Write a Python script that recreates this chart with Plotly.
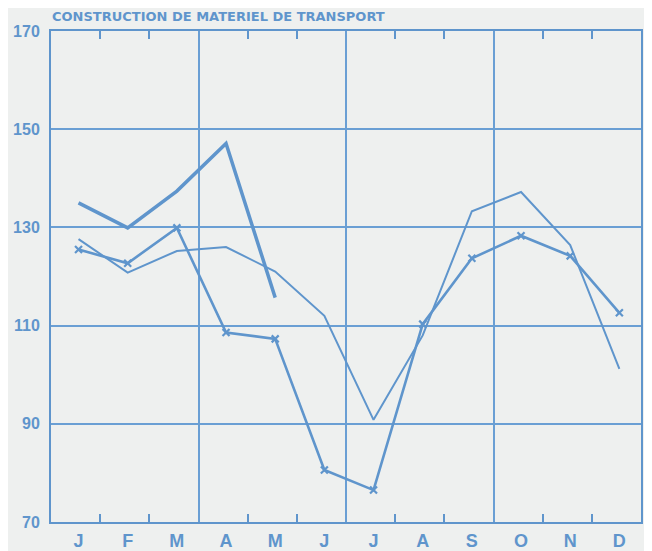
"""
Construction de matériel de transport - indices mensuels
"""

import plotly.graph_objects as go

# Couleurs
BLUE = '#5f95cc'
GRID = '#6a9fd4'
BG = '#eef0ef'

# Données
MONTHS = ['J', 'F', 'M', 'A', 'M', 'J', 'J', 'A', 'S', 'O', 'N', 'D']
Y_TICKS = [70, 90, 110, 130, 150, 170]

serie_a = [135.0, 129.9, 137.4, 147.1, 115.7]
serie_b = [127.6, 120.8, 125.2, 126.0, 121.0, 112.0, 90.8, 108.0, 133.3, 137.2, 126.4, 101.2]
serie_c = [125.5, 122.7, 129.9, 108.6, 107.3, 80.6, 76.5, 110.3, 123.7, 128.3, 124.2, 112.6]

x_pos = list(range(len(MONTHS)))
x_range = [-0.56, 11.44]
bounds = [k - 0.56 for k in range(1, 12)]
grid_bounds = [b for i, b in enumerate(bounds, start=1) if i % 3 == 0]
tick_bounds = [b for i, b in enumerate(bounds, start=1) if i % 3 != 0]

LABEL_FONT = dict(family='Liberation Sans, Arial, sans-serif', color=BLUE, weight='bold')

fig = go.Figure()

fig.add_trace(go.Scatter(
    x=x_pos[:len(serie_a)], y=serie_a,
    mode='lines', line=dict(color=BLUE, width=3.5),
    showlegend=False, hoverinfo='skip'
))
fig.add_trace(go.Scatter(
    x=x_pos, y=serie_b,
    mode='lines', line=dict(color=BLUE, width=2),
    showlegend=False, hoverinfo='skip'
))
fig.add_trace(go.Scatter(
    x=x_pos, y=serie_c,
    mode='lines+markers', line=dict(color=BLUE, width=2.6),
    marker=dict(symbol='x-thin', size=7, line=dict(color=BLUE, width=2.2)),
    showlegend=False, hoverinfo='skip'
))

# Axes auxiliaires (graduations et grille verticale)
fig.add_trace(go.Scatter(x=[None], y=[None], xaxis='x2', showlegend=False))
fig.add_trace(go.Scatter(x=[None], y=[None], xaxis='x3', showlegend=False))

# la page ajoute une marge de 8 px autour du graphique
fig.update_layout(
    width=652, height=551,
    margin=dict(l=43, r=19, t=23, b=37),
    paper_bgcolor=BG, plot_bgcolor=BG,
    title=dict(
        text='CONSTRUCTION DE MATERIEL DE TRANSPORT',
        x=44 / 652, xanchor='left', xref='container',
        y=1 - 8 / 551, yanchor='middle', yref='container',
        font=dict(family='DejaVu Sans', size=13, color=BLUE, weight='bold'),
        automargin=False
    ),
    xaxis=dict(
        range=x_range, tickmode='array', tickvals=x_pos, ticktext=MONTHS,
        ticks='', showgrid=False, zeroline=False, automargin=False,
        showline=True, mirror=True, linecolor=BLUE, linewidth=2,
        tickfont=dict(size=18, **LABEL_FONT), ticklabelstandoff=1
    ),
    xaxis2=dict(
        range=x_range, overlaying='x', tickmode='array', tickvals=tick_bounds,
        ticks='inside', ticklen=8, tickwidth=2, tickcolor=BLUE, automargin=False,
        showline=True, linecolor=BLUE, linewidth=2, mirror='ticks',
        showticklabels=False, showgrid=False, zeroline=False, side='bottom'
    ),
    xaxis3=dict(
        range=x_range, overlaying='x', tickmode='array', tickvals=grid_bounds,
        ticks='', showticklabels=False, showgrid=True, automargin=False,
        gridcolor=GRID, gridwidth=2, zeroline=False, side='bottom'
    ),
    yaxis=dict(
        range=[70, 170], tickmode='array', tickvals=Y_TICKS,
        ticks='', showgrid=True, gridcolor=GRID, gridwidth=2, zeroline=False,
        showline=True, mirror=True, linecolor=BLUE, linewidth=2, automargin=False,
        tickfont=dict(size=16, **LABEL_FONT), ticklabelstandoff=6
    ),
)

fig.write_html("out.html")
